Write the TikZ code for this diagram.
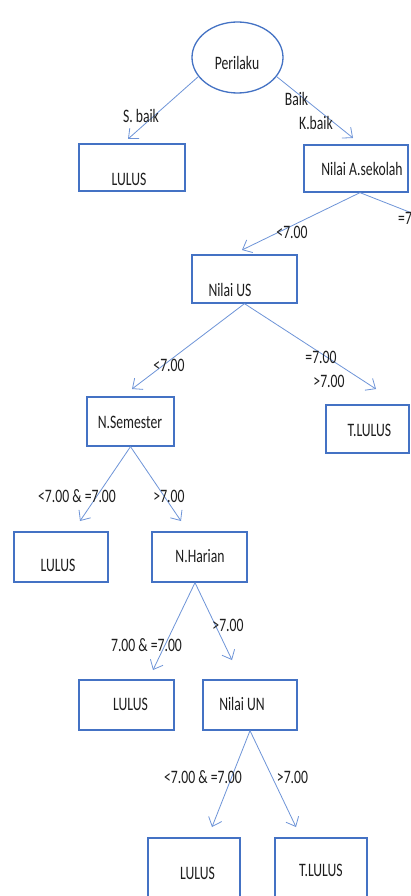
\documentclass[tikz,border=0pt]{standalone}
\usepackage{fontspec}
\setmainfont{Carlito}[FakeStretch=0.72]
\usetikzlibrary{arrows.meta,shapes.geometric}
\definecolor{boxblue}{HTML}{4472C4}
\definecolor{linkblue}{HTML}{6E94D8}
\definecolor{ink}{HTML}{1E1E1E}
\begin{document}
\begin{tikzpicture}[x=1pt,y=-1pt,
  box/.style={draw=boxblue,line width=1.3pt,rectangle,inner sep=0pt},
  oval/.style={draw=boxblue,line width=1.3pt,ellipse,inner sep=0pt},
  conn/.style={draw=linkblue,line width=0.8pt,
    -{Straight Barb[length=8pt,width=14pt,line width=0.8pt]}},
  txt/.style={text=ink,font=\fontsize{19}{22}\selectfont,inner sep=0pt},
]
\useasboundingbox (0,0) rectangle (410,896);
\begin{scope}
\clip (0,0) rectangle (410,896);
\fill[white] (0,0) rectangle (410,896);

% decision and leaf nodes
\node[oval,minimum width=91pt,minimum height=71pt] (perilaku) at (237.5,57.5) {};
\node[box,minimum width=106pt,minimum height=47pt] (lulusA) at (132,167.5) {};
\node[box,minimum width=104pt,minimum height=47pt] (nilaiA) at (356,168.5) {};
\node[box,minimum width=105pt,minimum height=48pt] (nilaiUS) at (244.5,279) {};
\node[box,minimum width=87pt,minimum height=49pt] (nsem) at (130.5,421.5) {};
\node[box,minimum width=83pt,minimum height=48pt] (tlulusA) at (367.5,429) {};
\node[box,minimum width=94pt,minimum height=50pt] (lulusB) at (61,557) {};
\node[box,minimum width=95pt,minimum height=50pt] (harian) at (199.5,557) {};
\node[box,minimum width=95pt,minimum height=50pt] (lulusC) at (126.5,705) {};
\node[box,minimum width=94pt,minimum height=50pt] (nilaiUN) at (250,705) {};
\node[box,minimum width=92pt,minimum height=70pt] (lulusD) at (194,873) {};
\node[box,minimum width=92pt,minimum height=70pt] (tlulusB) at (321,873) {};

% node captions
\node[txt] (tPerilaku) at (237,63) {Perilaku};
\node[txt] (tLulusA) at (129,179.5) {LULUS};
\node[txt] (tNilaiA) at (362,169) {Nilai A.sekolah};
\node[txt] (tNilaiUS) at (230,290) {Nilai US};
\node[txt] (tNsem) at (130,422.5) {N.Semester};
\node[txt] (tTlulusA) at (369.5,430.5) {T.LULUS};
\node[txt] (tLulusB) at (58,565) {LULUS};
\node[txt] (tHarian) at (200,556) {N.Harian};
\node[txt] (tLulusC) at (130.5,704) {LULUS};
\node[txt] (tNilaiUN) at (242,704) {Nilai UN};
\node[txt] (tLulusD) at (197.5,873) {LULUS};
\node[txt] (tTlulusB) at (321,870) {T.LULUS};

% arrow ends
\coordinate (eA) at (128,139);
\coordinate (eB) at (353,138);
\coordinate (eC) at (242,250);
\coordinate (eD) at (450,228);
\coordinate (eE) at (132,389);
\coordinate (eF) at (376,389);
\coordinate (eG) at (80,521);
\coordinate (eH) at (181,521);
\coordinate (eI) at (153,670);
\coordinate (eJ) at (232,660);
\coordinate (eK) at (212,827);
\coordinate (eL) at (296,827);

% branches
\draw[conn] (perilaku.206) -- (eA);
\draw[conn] (perilaku.334) -- (eB);
\draw[conn] ([xshift=4pt]nilaiA.south) -- (eC);
\draw[conn] ([xshift=4pt]nilaiA.south) -- (eD);
\draw[conn] (nilaiUS.south) -- (eE);
\draw[conn] (nilaiUS.south) -- (eF);
\draw[conn] (nsem.south) -- (eG);
\draw[conn] (nsem.south) -- (eH);
\draw[conn] ([xshift=-4.5pt]harian.south) -- (eI);
\draw[conn] ([xshift=-4.5pt]harian.south) -- (eJ);
\draw[conn] (nilaiUN.south) -- (eK);
\draw[conn] (nilaiUN.south) -- (eL);

% branch labels
\node[txt] (lSbaik) at (141,116) {S. baik};
\node[txt] (lBaik) at (296.5,99) {Baik};
\node[txt] (lKbaik) at (316,123) {K.baik};
\node[txt] (lA1) at (292,232) {<7.00};
\node[txt,anchor=west] (lA2) at (398,218) {=7.00};
\node[txt] (lU1) at (169,365) {<7.00};
\node[txt] (lU2) at (321,357) {=7.00};
\node[txt] (lU3) at (329,381) {>7.00};
\node[txt] (lS1) at (77,496) {<7.00 \& =7.00};
\node[txt] (lS2) at (169,496) {>7.00};
\node[txt] (lH1) at (146.5,645) {7.00 \& =7.00};
\node[txt] (lH2) at (228,625) {>7.00};
\node[txt] (lN1) at (203,777) {<7.00 \& =7.00};
\node[txt] (lN2) at (292.5,777) {>7.00};
\end{scope}
\end{tikzpicture}
\end{document}
